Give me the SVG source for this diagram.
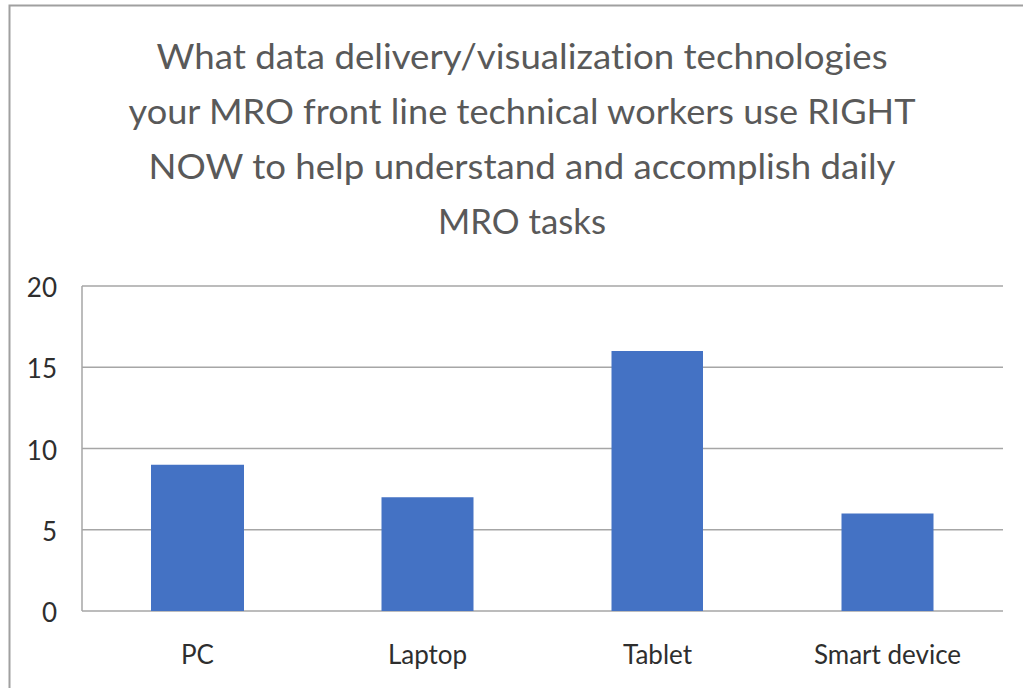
<svg xmlns="http://www.w3.org/2000/svg" width="1023" height="688" viewBox="0 0 1023 688">
  <style>
    .title { font-family: Lato, "Open Sans", "Liberation Sans", sans-serif; font-size: 35.5px; fill: #595959; text-anchor: middle; font-variant-ligatures: none; }
    .tick { font-family: Lato, "Open Sans", "Liberation Sans", sans-serif; font-size: 26px; fill: #2E2E2E; text-anchor: end; }
    .cat { font-family: Lato, "Open Sans", "Liberation Sans", sans-serif; font-size: 26px; fill: #2E2E2E; text-anchor: middle; }
    .grid { stroke: #A6A6A6; stroke-width: 1.5; fill: none; }
    .bar { fill: #4472C4; }
  </style>

  <!-- background and chart frame -->
  <rect x="0" y="0" width="1023" height="688" fill="#FFFFFF"/>
  <path d="M9.5 700 V5.5 H1030" fill="none" stroke="#A0A0A0" stroke-width="2"/>

  <!-- chart title -->
  <g id="title">
    <text class="title" x="522" y="69" textLength="731" lengthAdjust="spacingAndGlyphs">What data delivery/visualization technologies</text>
    <text class="title" x="522" y="124" textLength="787" lengthAdjust="spacingAndGlyphs">your MRO front line technical workers use RIGHT</text>
    <text class="title" x="522" y="179" textLength="747" lengthAdjust="spacingAndGlyphs">NOW to help understand and accomplish daily</text>
    <text class="title" x="522" y="234" textLength="168" lengthAdjust="spacingAndGlyphs">MRO tasks</text>
  </g>

  <!-- value axis gridlines and plot edge -->
  <g id="axes">
    <line class="grid" x1="82" y1="286" x2="1003" y2="286"/>
    <line class="grid" x1="82" y1="367.25" x2="1003" y2="367.25"/>
    <line class="grid" x1="82" y1="448.5" x2="1003" y2="448.5"/>
    <line class="grid" x1="82" y1="529.75" x2="1003" y2="529.75"/>
    <line class="grid" x1="82" y1="611" x2="1003" y2="611"/>
    <line class="grid" x1="82" y1="286" x2="82" y2="611"/>
  </g>

  <!-- value axis labels -->
  <g id="value-labels">
    <text class="tick" x="57" y="297">20</text>
    <text class="tick" x="57" y="378">15</text>
    <text class="tick" x="57" y="459.5">10</text>
    <text class="tick" x="57" y="540.5">5</text>
    <text class="tick" x="57" y="622">0</text>
  </g>

  <!-- bars -->
  <g id="bar-pc"><rect class="bar" x="151" y="464.75" width="93" height="146.25"/></g>
  <g id="bar-laptop"><rect class="bar" x="381.5" y="497.25" width="92" height="113.75"/></g>
  <g id="bar-tablet"><rect class="bar" x="611.5" y="351" width="91.5" height="260"/></g>
  <g id="bar-smart-device"><rect class="bar" x="841.5" y="513.5" width="92" height="97.5"/></g>

  <!-- category labels -->
  <g id="category-labels">
    <text class="cat" x="197.5" y="664">PC</text>
    <text class="cat" x="427.5" y="664">Laptop</text>
    <text class="cat" x="657.5" y="664">Tablet</text>
    <text class="cat" x="887.5" y="664">Smart device</text>
  </g>
</svg>
